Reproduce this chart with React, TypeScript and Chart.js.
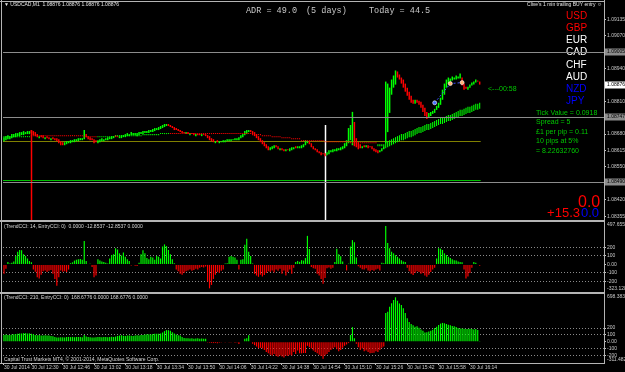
import React, { useEffect, useRef } from 'react';
import { Chart, registerables } from 'chart.js';

Chart.register(...registerables);

const SANS = "'Liberation Sans', Arial, sans-serif";
const MONO = "'Liberation Mono', 'Courier New', monospace";
const AXIS_TEXT = '#c8c8c8';
const FRAME = '#b4b4b4';
const UP = '#00ff00';
const DOWN = '#ff0000';
const RIGHT_AXIS_WIDTH = 21;

// ---------------- data ----------------
const SLOT_COUNT = 307; // one-minute slots across the plot (incl. empty chart-shift zone)
const slotLabels = Array.from({ length: SLOT_COUNT }, (_, i) => String(i));

const timeTickLabels = ['30 Jul 2014', '30 Jul 12:30', '30 Jul 12:46', '30 Jul 13:02', '30 Jul 13:18', '30 Jul 13:34', '30 Jul 13:50', '30 Jul 14:06', '30 Jul 14:22', '30 Jul 14:38', '30 Jul 14:54', '30 Jul 15:10', '30 Jul 15:26', '30 Jul 15:42', '30 Jul 15:58', '30 Jul 16:14'];
const timeTickBars = [0, 14, 30, 46, 62, 78, 94, 110, 126, 142, 158, 174, 190, 206, 222, 238];

const priceTicks = [1.08355, 1.0842, 1.08485, 1.0855, 1.08615, 1.0868, 1.08745, 1.0881, 1.08875, 1.0894, 1.09005, 1.0907, 1.09135];
const PRICE_MIN = 1.08344;
const PRICE_MAX = 1.09203;

const opens = [
  1.08652, 1.08656, 1.0866, 1.0866, 1.08664, 1.08668, 1.08668, 1.08672, 1.08672, 1.08676,
  1.08676, 1.0868, 1.0868, 1.0868, 1.08696, 1.08692, 1.08688, 1.0868, 1.08664, 1.08676,
  1.08676, 1.0866, 1.08672, 1.08668, 1.08656, 1.08668, 1.08664, 1.08664, 1.0866, 1.08652,
  1.08648, 1.08636, 1.0864, 1.08644, 1.08644, 1.08648, 1.08648, 1.08652, 1.08652, 1.08656,
  1.08656, 1.0866, 1.0868, 1.08672, 1.08668, 1.08664, 1.0866, 1.08656, 1.08644, 1.08648,
  1.08652, 1.08652, 1.08656, 1.08656, 1.0866, 1.0866, 1.08664, 1.08676, 1.08672, 1.08664,
  1.08664, 1.08668, 1.08668, 1.08672, 1.08672, 1.08676, 1.08676, 1.08676, 1.08672, 1.08676,
  1.0868, 1.0868, 1.08684, 1.08684, 1.08684, 1.08688, 1.08688, 1.08692, 1.08696, 1.08696,
  1.087, 1.08704, 1.08708, 1.08712, 1.0872, 1.08716, 1.08712, 1.08708, 1.08704, 1.087,
  1.08696, 1.08692, 1.08688, 1.0868, 1.08688, 1.08676, 1.08684, 1.08684, 1.08672, 1.0868,
  1.0868, 1.08672, 1.0868, 1.0868, 1.08676, 1.08672, 1.08664, 1.0866, 1.08644, 1.08656,
  1.08644, 1.08648, 1.08648, 1.08648, 1.08652, 1.08652, 1.08652, 1.08656, 1.08656, 1.08656,
  1.08656, 1.08664, 1.08668, 1.08676, 1.0868, 1.08688, 1.08696, 1.08692, 1.08688, 1.0868,
  1.08672, 1.08664, 1.08656, 1.08648, 1.0864, 1.08632, 1.08616, 1.0862, 1.08624, 1.08636,
  1.08632, 1.08616, 1.08624, 1.0862, 1.08612, 1.0862, 1.08612, 1.08616, 1.0862, 1.08632,
  1.08624, 1.08624, 1.08624, 1.08628, 1.08636, 1.08644, 1.08652, 1.08644, 1.08632, 1.08624,
  1.0862, 1.08612, 1.08608, 1.08604, 1.08604, 1.08596, 1.086, 1.08608, 1.08608, 1.08612,
  1.08612, 1.08616, 1.08616, 1.0862, 1.08624, 1.08632, 1.08644, 1.08656, 1.08636, 1.08728,
  1.08664, 1.08648, 1.0864, 1.08624, 1.08636, 1.08628, 1.08636, 1.08632, 1.08632, 1.08624,
  1.0862, 1.08616, 1.08608, 1.08612, 1.0862, 1.08644, 1.08688, 1.08764, 1.08836, 1.08864,
  1.08876, 1.08928, 1.08916, 1.08904, 1.08896, 1.0888, 1.08864, 1.08848, 1.08832, 1.08816,
  1.088, 1.08816, 1.08812, 1.08808, 1.08796, 1.08784, 1.08768, 1.08748, 1.08752, 1.0876,
  1.08764, 1.08776, 1.08784, 1.08796, 1.08816, 1.08836, 1.08864, 1.0888, 1.08888, 1.08892,
  1.08896, 1.08896, 1.089, 1.089, 1.08904, 1.0888, 1.08868, 1.08856, 1.08864, 1.08872,
  1.08876, 1.08884, 1.08892, 1.08888,
];

const closes = [
  1.08668, 1.08672, 1.08676, 1.08672, 1.0868, 1.0868, 1.08684, 1.08684, 1.08688, 1.08688,
  1.08692, 1.08688, 1.08692, 1.08692, 1.08684, 1.08676, 1.08672, 1.08668, 1.08672, 1.08668,
  1.08664, 1.08668, 1.08664, 1.0866, 1.08664, 1.0866, 1.08656, 1.08652, 1.08644, 1.08636,
  1.08636, 1.08648, 1.08652, 1.08652, 1.08656, 1.08656, 1.0866, 1.0866, 1.08664, 1.08664,
  1.08664, 1.08696, 1.08668, 1.0866, 1.08656, 1.08656, 1.08644, 1.08648, 1.08656, 1.0866,
  1.08664, 1.0866, 1.08664, 1.08668, 1.08668, 1.08672, 1.08672, 1.08668, 1.08668, 1.08672,
  1.08676, 1.08676, 1.0868, 1.08684, 1.0868, 1.08688, 1.08684, 1.08684, 1.08684, 1.08688,
  1.08688, 1.08692, 1.08692, 1.08692, 1.08696, 1.08696, 1.087, 1.08704, 1.08704, 1.08708,
  1.08712, 1.08716, 1.0872, 1.0872, 1.08712, 1.08708, 1.08704, 1.08696, 1.08696, 1.08692,
  1.08688, 1.08684, 1.08684, 1.08688, 1.0868, 1.08684, 1.0868, 1.08676, 1.0868, 1.08676,
  1.08676, 1.0868, 1.08676, 1.08672, 1.08664, 1.08656, 1.08652, 1.08648, 1.08652, 1.08648,
  1.08652, 1.08652, 1.08656, 1.08656, 1.0866, 1.0866, 1.0866, 1.0866, 1.08664, 1.08664,
  1.08668, 1.08676, 1.0868, 1.08692, 1.08696, 1.08696, 1.08688, 1.0868, 1.08672, 1.08664,
  1.08656, 1.08648, 1.0864, 1.08632, 1.08624, 1.08616, 1.08628, 1.08632, 1.08636, 1.08628,
  1.0862, 1.08624, 1.08616, 1.08612, 1.0862, 1.08616, 1.08624, 1.08628, 1.08628, 1.08624,
  1.08632, 1.08632, 1.08636, 1.0864, 1.08656, 1.08652, 1.0864, 1.08628, 1.0862, 1.08616,
  1.08608, 1.08604, 1.08596, 1.086, 1.08592, 1.08608, 1.08616, 1.08616, 1.0862, 1.0862,
  1.08624, 1.08624, 1.08628, 1.08632, 1.08644, 1.08656, 1.08704, 1.08716, 1.08768, 1.08632,
  1.08628, 1.0862, 1.08624, 1.08632, 1.08628, 1.08636, 1.08624, 1.08628, 1.0862, 1.08612,
  1.08608, 1.08604, 1.08616, 1.08624, 1.08632, 1.08888, 1.0888, 1.08864, 1.08896, 1.08912,
  1.08932, 1.08904, 1.08896, 1.0888, 1.08864, 1.08848, 1.08832, 1.08816, 1.08804, 1.088,
  1.08816, 1.08804, 1.08796, 1.08784, 1.08768, 1.08752, 1.0874, 1.08764, 1.08768, 1.08772,
  1.0878, 1.08792, 1.08804, 1.08824, 1.08856, 1.0888, 1.08896, 1.08904, 1.089, 1.08908,
  1.08904, 1.08912, 1.08908, 1.0892, 1.08872, 1.08856, 1.0886, 1.08868, 1.08876, 1.08884,
  1.08888, 1.08896, 1.08888, 1.08876,
];

const maFast = [
  1.08672, 1.08672, 1.08672, 1.08672, 1.08672, 1.08672, 1.08672, 1.08672, 1.08672, 1.08672,
  1.08672, 1.08672, 1.08672, 1.08672, 1.08672, 1.08672, 1.08672, 1.08672, 1.08672, 1.08672,
  1.08672, 1.08672, 1.08672, 1.08672, 1.08672, 1.08672, 1.08672, 1.08672, 1.08672, 1.08672,
  1.08672, 1.08672, 1.08672, 1.08672, 1.08672, 1.08672, 1.08672, 1.08672, 1.08672, 1.08672,
  1.08672, 1.08668, 1.08668, 1.08668, 1.08668, 1.08668, 1.08668, 1.08668, 1.08672, 1.08672,
  1.08672, 1.08672, 1.08672, 1.08672, 1.08672, 1.08672, 1.08672, 1.08676, 1.08676, 1.08676,
  1.08676, 1.08676, 1.08676, 1.08676, 1.08676, 1.08676, 1.08676, 1.08676, 1.08676, 1.08676,
  1.08676, 1.0868, 1.0868, 1.0868, 1.0868, 1.0868, 1.0868, 1.0868, 1.0868, 1.0868,
  1.08684, 1.08684, 1.08684, 1.08684, 1.08684, 1.0868, 1.0868, 1.0868, 1.0868, 1.0868,
  1.0868, 1.0868, 1.0868, 1.0868, 1.0868, 1.0868, 1.0868, 1.0868, 1.0868, 1.0868,
  1.0868, 1.0868, 1.0868, 1.0868, 1.0868, 1.0868, 1.0868, 1.0868, 1.0868, 1.0868,
  1.0868, 1.0868, 1.0868, 1.0868, 1.0868, 1.0868, 1.0868, 1.0868, 1.0868, 1.0868,
  1.0868, 1.0868, 1.0868, 1.0868, 1.0868, 1.0868, 1.0868, 1.08676, 1.08676, 1.08676,
  1.08676, 1.08676, 1.08672, 1.08672, 1.08672, 1.08672, 1.08672, 1.08668, 1.08668, 1.08668,
  1.08668, 1.08668, 1.08664, 1.08664, 1.08664, 1.08664, 1.08664, 1.0866, 1.0866, 1.0866,
  1.0866, 1.0866, 1.08652, 1.08652, 1.08652, 1.08652, 1.08652, 1.08652, 1.08652, 1.08652,
  1.08652, 1.08652, 1.08652, 1.08652, 1.08648, 1.08648, 1.08648, 1.08648, 1.08648, 1.08648,
  1.08648, 1.08648, 1.08648, 1.08648, 1.08648, 1.08648, 1.08648, 1.08644, 1.08644, 1.08644,
  1.08644, 1.08644, 1.08644, 1.08644, 1.08644, 1.08644, 1.08644, 1.08644, 1.08644, 1.08644,
  1.08644, 1.0864, 1.0864, 1.0864, 1.0864, 1.08648, 1.08652, 1.08656, 1.0866, 1.08664,
  1.08668, 1.08672, 1.08676, 1.0868, 1.0868, 1.08684, 1.08688, 1.08692, 1.08692, 1.08696,
  1.087, 1.08704, 1.08708, 1.08708, 1.08712, 1.08716, 1.0872, 1.0872, 1.08724, 1.08728,
  1.08732, 1.08736, 1.0874, 1.08744, 1.08744, 1.08748, 1.08752, 1.08756, 1.08756, 1.0876,
  1.08764, 1.08768, 1.08772, 1.08776, 1.08776, 1.0878, 1.08784, 1.08788, 1.08788, 1.08792,
  1.08796, 1.088, 1.088, 1.08804,
];

const maSlow = [
  1.08668, 1.08668, 1.08668, 1.08668, 1.08668, 1.08668, 1.08668, 1.08668, 1.08668, 1.08668,
  1.08668, 1.08668, 1.08668, 1.08668, 1.08676, 1.08676, 1.08676, 1.08676, 1.08676, 1.08676,
  1.08676, 1.08676, 1.08676, 1.08676, 1.08676, 1.08676, 1.08676, 1.08676, 1.08676, 1.08676,
  1.08676, 1.08676, 1.08676, 1.08676, 1.08676, 1.08676, 1.08676, 1.08676, 1.08676, 1.08676,
  1.08676, 1.08672, 1.08672, 1.08672, 1.08672, 1.08672, 1.08672, 1.08672, 1.08668, 1.08668,
  1.08668, 1.08668, 1.08668, 1.08668, 1.08668, 1.08668, 1.08668, 1.08672, 1.08672, 1.08672,
  1.08672, 1.08672, 1.08672, 1.08672, 1.08672, 1.08672, 1.08672, 1.08672, 1.08672, 1.08672,
  1.08672, 1.08676, 1.08676, 1.08676, 1.08676, 1.08676, 1.08676, 1.08676, 1.08676, 1.08676,
  1.0868, 1.0868, 1.0868, 1.0868, 1.0868, 1.08684, 1.08684, 1.08684, 1.08684, 1.08684,
  1.08684, 1.08684, 1.08684, 1.08684, 1.08684, 1.08684, 1.08684, 1.08684, 1.08684, 1.08684,
  1.08684, 1.08684, 1.08684, 1.08684, 1.08684, 1.08684, 1.08684, 1.08684, 1.08684, 1.08684,
  1.08684, 1.08684, 1.08684, 1.08684, 1.08684, 1.08684, 1.08684, 1.08684, 1.08684, 1.08684,
  1.08684, 1.08684, 1.08684, 1.08684, 1.08684, 1.08684, 1.08684, 1.0868, 1.0868, 1.0868,
  1.0868, 1.0868, 1.08676, 1.08676, 1.08676, 1.08676, 1.08676, 1.08672, 1.08672, 1.08672,
  1.08672, 1.08672, 1.08668, 1.08668, 1.08668, 1.08668, 1.08668, 1.08664, 1.08664, 1.08664,
  1.08664, 1.08664, 1.08656, 1.08656, 1.08656, 1.08656, 1.08656, 1.08656, 1.08656, 1.08656,
  1.08656, 1.08656, 1.08656, 1.08656, 1.08652, 1.08652, 1.08652, 1.08652, 1.08652, 1.08652,
  1.08652, 1.08652, 1.08652, 1.08652, 1.08652, 1.08652, 1.08652, 1.08648, 1.08648, 1.08648,
  1.08648, 1.08648, 1.08648, 1.08648, 1.08648, 1.08648, 1.08648, 1.08648, 1.08648, 1.08648,
  1.08648, 1.08632, 1.08632, 1.08632, 1.08632, 1.08624, 1.08628, 1.08632, 1.08636, 1.0864,
  1.08644, 1.08648, 1.08652, 1.08656, 1.08656, 1.0866, 1.08664, 1.08668, 1.08668, 1.08672,
  1.08676, 1.0868, 1.08684, 1.08684, 1.08688, 1.08692, 1.08696, 1.08696, 1.087, 1.08704,
  1.08708, 1.08712, 1.08716, 1.0872, 1.0872, 1.08724, 1.08728, 1.08732, 1.08732, 1.08736,
  1.0874, 1.08744, 1.08748, 1.08752, 1.08752, 1.08756, 1.0876, 1.08764, 1.08764, 1.08768,
  1.08772, 1.08776, 1.08776, 1.0878,
];

const grayLevels = [1.09005, 1.08747, 1.0849];
const oliveLevel = 1.0865;
const greenLevel = 1.08498;
const bidPrice = 1.08876;
const signalBars = [14, 164];
const signalPrices = [1.08696, 1.08716];
const trendBars = [220, 228, 234];
const trendPrices = [1.08804, 1.0888, 1.08884];

const adrValue = 49.0;
const adrDays = 5;
const todayRange = 44.5;
const currencies = ['USD', 'GBP', 'EUR', 'CAD', 'CHF', 'AUD', 'NZD', 'JPY'];
const infoLines = ['Tick Value = 0.0918', 'Spread = 5', '£1 per pip = 0.11', '10 pips at 5%', '= 8.22632760'];
const candleTimer = '<---00:58';
const bigValue = '0.0';
const plValue = '+15.3';
const plValue2 = '0.0';

const cci14 = [
  -110, -50, 30, 10, 20, 35, 100, 150, 170, 165,
  120, 100, 70, 40, 25, -60, -85, -150, -165, -120,
  -80, -70, -90, -75, -65, -110, -170, -250, -150, -70,
  -85, -80, -90, -60, 15, 25, 45, 55, 60, 65,
  55, 275, 40, -8, 8, -30, -150, -130, 60, 45,
  35, 30, 20, 10, 70, 110, 120, 190, 175, 130,
  105, 140, 90, 60, 40, -12, 0, -15, -18, 20,
  120, 165, 130, 75, 60, 90, 80, 55, 100, 90,
  70, 210, 235, 215, 170, 120, 60, 15, -60, -80,
  -110, -120, -100, -80, -70, -60, -75, -65, -50, -60,
  -40, -30, -35, -25, -200, -280, -240, -170, -120, -90,
  -100, -75, -60, 10, 15, 90, 100, 90, 80, 55,
  -60, 55, 60, 230, 300, 150, 100, 10, -110, -130,
  -145, -120, -140, -125, -100, -80, -90, -70, -95, -60,
  -75, -50, -110, -70, -130, -90, -60, -110, -40, 30,
  40, 30, 50, 45, 75, 335, 180, -30, -45, -50,
  -110, -130, -170, -225, -160, -45, -35, -50, -40, 30,
  185, 120, 95, 35, 0, -70, 10, 210, 285, 260,
  80, -20, -40, -55, -60, -45, -70, -80, -65, -75,
  -60, -50, -70, 20, 15, 450, 250, 190, 150, 130,
  110, 90, 70, 50, 35, 30, -40, -80, -110, -125,
  -100, -80, -90, -110, -100, -130, -145, -120, -90, -60,
  -40, 70, 190, 185, 170, 130, 110, 90, 75, 60,
  50, 45, 35, 30, 25, -60, -165, -140, -100, -40,
  30, 20, 0, -15,
];
const CCI14_MIN = -323.1284;
const CCI14_MAX = 497.6551;

const cci210 = [
  100, 105, 100, 98, 105, 110, 112, 118, 120, 122,
  125, 125, 120, 122, 118, 110, 100, 95, 98, 92,
  90, 95, 92, 90, 85, 80, 70, 60, 62, 65,
  65, 62, 68, 70, 68, 70, 65, 68, 70, 68,
  65, 98, 75, 70, 65, 60, 62, 65, 68, 70,
  65, 68, 70, 65, 68, 72, 70, 75, 85, 90,
  95, 88, 85, 90, 92, 88, 85, 90, 95, 92,
  98, 100, 105, 108, 110, 105, 112, 115, 118, 115,
  120, 135, 155, 170, 168, 160, 140, 120, 105, 95,
  90, 70, 55, 50, 52, 48, 50, 45, 48, 50,
  45, 48, 44, 42, -12, -15, -18, -20, -18, -22,
  -15, -10, 0, -12, 0, -12, -10, 0, -15, -12,
  -35, 0, 0, 45, 50, 95, 0, -30, -50, -70,
  -95, -90, -100, -120, -150, -170, -190, -200, -180, -210,
  -220, -200, -215, -230, -200, -210, -190, -200, -150, -180,
  -130, -170, -170, -165, -165, -60, -80, -100, -130, -150,
  -170, -190, -210, -250, -200, -180, -150, -120, -100, -80,
  -110, -140, -120, -90, -60, -40, -20, 98, 213, 49,
  -30, -80, -120, -100, -140, -130, -150, -170, -165, -160,
  -140, -150, -120, -90, -70, 420, 440, 513, 562, 611,
  650, 600, 560, 537, 490, 420, 342, 290, 260, 240,
  220, 225, 205, 180, 160, 135, 140, 150, 160, 175,
  200, 220, 245, 265, 275, 270, 260, 250, 240, 230,
  225, 215, 200, 195, 195, 190, 185, 185, 190, 185,
  180, 185, 170, 10,
];
const CCI210_MIN = -311.482;
const CCI210_MAX = 698.3831;
const cciTicks = [-200, -100, 0, 100, 200];

// ---------------- helpers ----------------
function text(ctx: any, s: string, x: number, y: number, font: string, color: string, align = 'left', baseline = 'middle') {
  ctx.font = font;
  ctx.fillStyle = color;
  ctx.textAlign = align;
  ctx.textBaseline = baseline;
  ctx.fillText(s, x, y);
}

function hline(ctx: any, x1: number, x2: number, y: number, color: string) {
  ctx.fillStyle = color;
  ctx.fillRect(x1, Math.round(y - 0.5), x2 - x1, 1);
}

function priceBox(ctx: any, y: number, label: string, bg: string) {
  ctx.fillStyle = bg;
  ctx.fillRect(605, Math.round(y) - 3.5, 20, 7);
  text(ctx, label, 607, Math.round(y), `5px ${SANS}`, '#000000');
}

function fixRightAxis(s: any) {
  s.width = RIGHT_AXIS_WIDTH;
  s.paddingTop = 0;
  s.paddingBottom = 0;
  s.paddingLeft = 0;
  s.paddingRight = 0;
}

function xAxis(show: boolean): any {
  return {
    type: 'category',
    offset: true,
    display: show,
    grid: {
      display: show,
      drawOnChartArea: false,
      offset: false,
      tickLength: 2,
      color: 'rgba(0,0,0,0)',
      tickColor: (c: any) => (timeTickBars.includes(c.index) ? AXIS_TEXT : 'rgba(0,0,0,0)'),
    },
    border: { display: false },
    ticks: {
      autoSkip: false,
      maxRotation: 0,
      minRotation: 0,
      align: 'start',
      padding: 0,
      color: AXIS_TEXT,
      font: { size: 5, family: SANS },
      callback: (_v: any, i: number) => {
        const k = timeTickBars.indexOf(i);
        return k >= 0 ? timeTickLabels[k] : '';
      },
    },
    afterFit: (s: any) => {
      s.height = show ? 9 : 0;
      s.paddingLeft = 0;
      s.paddingRight = 0;
    },
  };
}

function cciAxis(min: number, max: number): any {
  return {
    position: 'right',
    min,
    max,
    afterFit: fixRightAxis,
    afterBuildTicks: (s: any) => {
      s.ticks = cciTicks.map((v) => ({ value: v }));
    },
    ticks: {
      autoSkip: false,
      padding: 1,
      color: AXIS_TEXT,
      font: { size: 5, family: SANS },
      callback: (v: any) => (Number(v) === 0 ? '0.00' : String(v)),
    },
    grid: {
      drawOnChartArea: true,
      tickLength: 2,
      color: (c: any) => (c.tick && c.tick.value !== 0 ? '#8a8a8a' : 'rgba(0,0,0,0)'),
      tickColor: AXIS_TEXT,
    },
    border: { display: false, dash: [1, 2] },
  };
}

const baseOptions = {
  responsive: false,
  animation: false,
  events: [],
  plugins: { legend: { display: false }, tooltip: { enabled: false } },
};

// ---------------- main price panel ----------------
const mainDeco = {
  id: 'mainDeco',
  beforeDatasetsDraw(chart: any) {
    const { ctx, chartArea: a, scales } = chart;
    const x = scales.x;
    const y = scales.y;
    ctx.save();
    const xEnd = x.getPixelForValue(closes.length - 1) + 1;
    hline(ctx, a.left, xEnd, y.getPixelForValue(oliveLevel), '#808000');
    hline(ctx, a.left, xEnd, y.getPixelForValue(greenLevel), '#00c000');
    signalBars.forEach((b, k) => {
      const px = Math.round(x.getPixelForValue(b)) + 0.5;
      ctx.strokeStyle = k === 0 ? '#ff0000' : '#ffffff';
      ctx.lineWidth = 1.5;
      ctx.beginPath();
      ctx.moveTo(px, y.getPixelForValue(signalPrices[k]));
      ctx.lineTo(px, chart.height);
      ctx.stroke();
    });
    ctx.restore();
  },
  afterDraw(chart: any) {
    const { ctx, chartArea: a, scales } = chart;
    const y = scales.y;
    ctx.save();
    const b = bidPrice.toFixed(5);
    text(ctx, `\u25BC USDCAD,M1  ${b} ${b} ${b} ${b}`, 4, 5, `5px ${SANS}`, '#e6e6e6');
    text(ctx, `ADR = ${adrValue.toFixed(1)}`, 246, 11, `8.5px ${MONO}`, '#c8c8c8');
    text(ctx, `(${adrDays} days)`, 306, 11, `8.5px ${MONO}`, '#c8c8c8');
    text(ctx, `Today = ${todayRange.toFixed(1)}`, 369, 11, `8.5px ${MONO}`, '#c8c8c8');
    text(ctx, "Clive's 1 min trailing BUY entry \u263A", 602, 5, `5px ${SANS}`, '#e6e6e6', 'right');

    const currencyColors = ['#ff0000', '#ff0000', '#ffffff', '#ffffff', '#ffffff', '#ffffff', '#0000ff', '#0000ff'];
    currencies.forEach((c, k) => {
      text(ctx, c, 566, 16 + k * 12.2, `10px ${SANS}`, currencyColors[k]);
    });

    text(ctx, candleTimer, 488, 89, `7px ${SANS}`, '#00c800');
    infoLines.forEach((s, k) => text(ctx, s, 536, 113 + k * 9.5, `7px ${SANS}`, '#00c800'));

    text(ctx, bigValue, 578, 207, `16px ${SANS}`, '#ff0000', 'left', 'alphabetic');
    text(ctx, plValue, 580, 217, `13px ${SANS}`, '#ff0000', 'right', 'alphabetic');
    text(ctx, plValue2, 581, 217, `13px ${SANS}`, '#0000ff', 'left', 'alphabetic');

    grayLevels.forEach((v) => hline(ctx, a.left, a.right, y.getPixelForValue(v), '#8c8c8c'));
    grayLevels.forEach((v) => priceBox(ctx, y.getPixelForValue(v), v.toFixed(5), '#8c8c8c'));
    priceBox(ctx, y.getPixelForValue(bidPrice), bidPrice.toFixed(5), '#ffffff');

    ctx.fillStyle = FRAME;
    ctx.fillRect(0, 1, 605, 1);
    ctx.fillRect(1, 0, 1, chart.height);
    ctx.fillRect(604, 0, 1, chart.height);
    ctx.restore();
  },
};

function mainConfig(): any {
  const trendData = slotLabels.map((_, i) => {
    const k = trendBars.indexOf(i);
    return k >= 0 ? trendPrices[k] : null;
  });
  return {
    type: 'bar',
    data: {
      labels: slotLabels,
      datasets: [
        {
          type: 'line',
          data: trendData,
          spanGaps: true,
          borderColor: '#3a4cff',
          borderWidth: 1,
          borderDash: [2, 2],
          pointRadius: 2,
          pointHoverRadius: 2,
          pointBorderWidth: 0.6,
          pointBorderColor: '#ffffff',
          pointBackgroundColor: (c: any) => (c.dataIndex === trendBars[0] ? '#4a6cff' : '#ffb070'),
          order: 0,
        },
        {
          type: 'bar',
          data: maFast.map((v, i) => [v, maSlow[i]]),
          backgroundColor: maFast.map((v, i) => (v >= maSlow[i] ? UP : DOWN)),
          grouped: false,
          barPercentage: 0.55,
          categoryPercentage: 1,
          minBarLength: 1,
          order: 1,
        },
        {
          type: 'bar',
          data: opens.map((o, i) => [o, closes[i]]),
          backgroundColor: closes.map((c, i) => (c >= opens[i] ? UP : DOWN)),
          grouped: false,
          barPercentage: 0.75,
          categoryPercentage: 1,
          minBarLength: 1,
          order: 2,
        },
      ],
    },
    options: {
      ...baseOptions,
      layout: { autoPadding: false, padding: { left: 3, top: 2, right: 0, bottom: 1 } },
      scales: {
        x: xAxis(false),
        y: {
          position: 'right',
          min: PRICE_MIN,
          max: PRICE_MAX,
          afterFit: fixRightAxis,
          afterBuildTicks: (s: any) => {
            s.ticks = priceTicks.map((v) => ({ value: v }));
          },
          ticks: {
            autoSkip: false,
            padding: 1,
            color: AXIS_TEXT,
            font: { size: 5, family: SANS },
            callback: (v: any) => Number(v).toFixed(5),
          },
          grid: { drawOnChartArea: false, tickLength: 2, color: AXIS_TEXT },
          border: { display: false },
        },
      },
    },
    plugins: [mainDeco],
  };
}

// ---------------- CCI panels ----------------
function cciConfig(values: number[], min: number, max: number, showTime: boolean, deco: any, padding: any): any {
  return {
    type: 'bar',
    data: {
      labels: slotLabels,
      datasets: [
        {
          data: values,
          backgroundColor: values.map((v) => (v >= 0 ? UP : DOWN)),
          barPercentage: 0.6,
          categoryPercentage: 1,
        },
      ],
    },
    options: {
      ...baseOptions,
      layout: { autoPadding: false, padding },
      scales: { x: xAxis(showTime), y: cciAxis(min, max) },
    },
    plugins: [deco],
  };
}

const cci14Deco = {
  id: 'cci14Deco',
  afterDraw(chart: any) {
    const { ctx } = chart;
    const y = chart.scales.y;
    ctx.save();
    ctx.fillStyle = FRAME;
    ctx.fillRect(0, 0, 605, 2);
    ctx.fillRect(0, 72, 605, 1);
    ctx.fillRect(1, 0, 1, chart.height);
    ctx.fillRect(604, 0, 1, chart.height);
    text(ctx, '(TrendCCI: 14, EntryCCI: 0)  0.0000 -12.8537 -12.8537 0.0000', 4, 7, `5px ${SANS}`, '#d8d8d8');
    text(ctx, CCI14_MAX.toFixed(4), 607, y.getPixelForValue(CCI14_MAX) + 3, `5px ${SANS}`, AXIS_TEXT);
    text(ctx, CCI14_MIN.toFixed(4), 607, y.getPixelForValue(CCI14_MIN) - 3, `5px ${SANS}`, AXIS_TEXT);
    ctx.restore();
  },
};

const cci210Deco = {
  id: 'cci210Deco',
  afterDraw(chart: any) {
    const { ctx, chartArea: a } = chart;
    const y = chart.scales.y;
    ctx.save();
    ctx.fillStyle = FRAME;
    ctx.fillRect(0, 0, 605, 1);
    ctx.fillRect(1, 0, 1, a.bottom);
    ctx.fillRect(604, 0, 1, a.bottom + 1);
    ctx.fillRect(0, a.bottom, 605, 1);
    text(ctx, '(TrendCCI: 210, EntryCCI: 0)  168.6776 0.0000 168.6776 0.0000', 4, 5, `5px ${SANS}`, '#d8d8d8');
    text(ctx, 'Capital Trust Markets MT4, \u00A9 2001-2014, MetaQuotes Software Corp.', 4, 67, `5px ${SANS}`, '#d8d8d8');
    text(ctx, CCI210_MAX.toFixed(4), 607, y.getPixelForValue(CCI210_MAX) + 3, `5px ${SANS}`, AXIS_TEXT);
    text(ctx, CCI210_MIN.toFixed(3), 607, y.getPixelForValue(CCI210_MIN) - 3, `5px ${SANS}`, AXIS_TEXT);
    ctx.restore();
  },
};

export default function App() {
  const r1 = useRef<HTMLCanvasElement>(null);
  const r2 = useRef<HTMLCanvasElement>(null);
  const r3 = useRef<HTMLCanvasElement>(null);

  useEffect(() => {
    const charts = [
      new Chart(r1.current as any, mainConfig()),
      new Chart(r2.current as any, cciConfig(cci14, CCI14_MIN, CCI14_MAX, false, cci14Deco, { left: 3, top: 2, right: 0, bottom: 1 })),
      new Chart(r3.current as any, cciConfig(cci210, CCI210_MIN, CCI210_MAX, true, cci210Deco, { left: 3, top: 1, right: 0, bottom: 0 })),
    ];
    return () => charts.forEach((c) => c.destroy());
  }, []);

  const cs = (top: number, h: number): any => ({ position: 'absolute', left: 0, top, width: 625, height: h, display: 'block' });

  return (
    <div style={{ position: 'fixed', left: 0, top: 0, width: 625, height: 372, background: '#000', overflow: 'hidden' }}>
      <canvas ref={r1} width={625} height={220} style={cs(0, 220)} />
      <canvas ref={r2} width={625} height={73} style={cs(220, 73)} />
      <canvas ref={r3} width={625} height={79} style={cs(293, 79)} />
    </div>
  );
}
